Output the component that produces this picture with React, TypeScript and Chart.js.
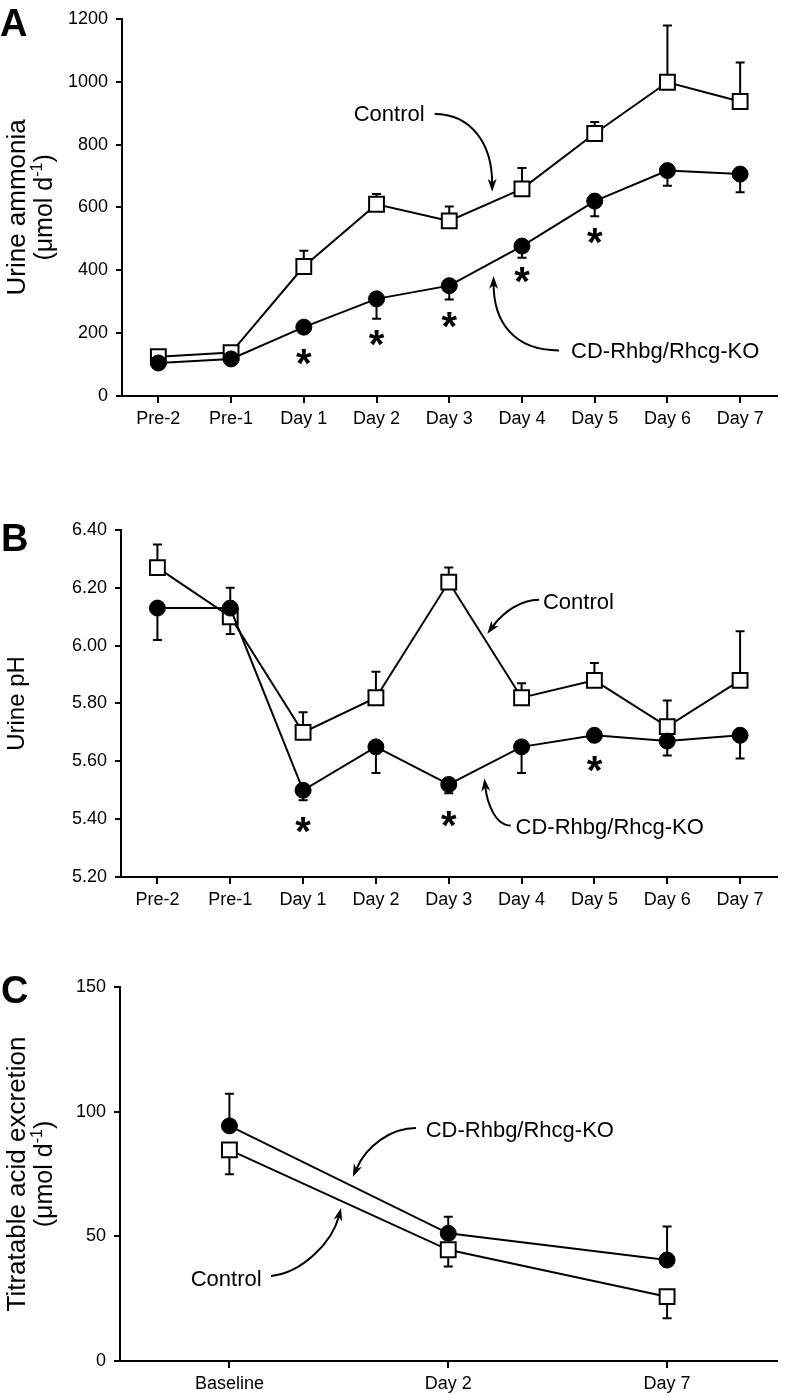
import React, { useEffect, useRef } from 'react';
import { Chart, registerables } from 'chart.js';

Chart.register(...registerables);

const FONT = "'Liberation Sans', Arial, Helvetica, sans-serif";

// ---------- DATA ----------
const dayLabels = ['Pre-2', 'Pre-1', 'Day 1', 'Day 2', 'Day 3', 'Day 4', 'Day 5', 'Day 6', 'Day 7'];

// Panel A: urine ammonia (µmol/d)
const ammoniaControl = [125, 138, 412, 610, 557, 659, 835, 998, 937];
const ammoniaControlErrUp = [10, 10, 50, 33, 46, 66, 37, 181, 124];
const ammoniaControlErrDown = [0, 0, 0, 0, 0, 0, 0, 0, 0];
const ammoniaKO = [105, 118, 219, 309, 351, 477, 620, 717, 706];
const ammoniaKOErrUp = [0, 0, 0, 0, 0, 0, 0, 0, 0];
const ammoniaKOErrDown = [8, 8, 15, 63, 44, 37, 48, 48, 58];
const ammoniaStars: (number | null)[] = [null, null, 123, 183, 243, 385, 508, null, null];
const ammoniaTicks = { min: 0, max: 1200, step: 200, decimals: 0 };

// Panel B: urine pH
const phControl = [6.27, 6.1, 5.7, 5.82, 6.22, 5.82, 5.88, 5.72, 5.88];
const phControlErrUp = [0.08, 0, 0.07, 0.09, 0.05, 0.05, 0.06, 0.09, 0.17];
const phControlErrDown = [0, 0.06, 0, 0, 0, 0, 0, 0, 0];
const phKO = [6.13, 6.13, 5.5, 5.65, 5.52, 5.65, 5.69, 5.67, 5.69];
const phKOErrUp = [0, 0.07, 0, 0, 0, 0, 0, 0, 0];
const phKOErrDown = [0.11, 0, 0.035, 0.09, 0.03, 0.09, 0.02, 0.05, 0.08];
const phStars: (number | null)[] = [null, null, 5.38, null, 5.4, null, 5.59, null, null];
const phTicks = { min: 5.2, max: 6.4, step: 0.2, decimals: 2 };

// Panel C: titratable acid excretion (µmol/d)
const taLabels = ['Baseline', 'Day 2', 'Day 7'];
const taControl = [84.7, 44.6, 25.8];
const taControlErrUp = [0, 0, 0];
const taControlErrDown = [9.8, 6.7, 8.7];
const taKO = [94.3, 51.2, 40.5];
const taKOErrUp = [12.9, 6.7, 13.4];
const taKOErrDown = [0, 0, 0];
const taStars: (number | null)[] = [null, null, null];
const taTicks = { min: 0, max: 150, step: 50, decimals: 0 };

// ---------- TYPES ----------
type Series = { data: number[]; errUp: number[]; errDown: number[]; kind: 'square' | 'circle' };
type Pt = [number, number];
type Note = { text: string; at: Pt; path: [Pt, Pt, Pt, Pt] };
type Panel = {
  letter: string;
  letterX: number;
  letterBaseline: number;
  title: string[];
  titleSizes: number[];
  titleBaselines: number[];
  labels: string[];
  ticks: { min: number; max: number; step: number; decimals: number };
  series: Series[];
  stars: (number | null)[];
  notes: Note[];
  top: number;
  height: number;
  area: { left: number; top: number; right: number; bottom: number };
};

// ---------- PANELS (layout + annotations) ----------
const panels: Panel[] = [
  {
    letter: 'A',
    letterX: 0,
    letterBaseline: 36,
    title: ['Urine ammonia', '(μmol d^{-1})'],
    titleSizes: [26, 25],
    titleBaselines: [24.5, 52],
    labels: dayLabels,
    ticks: ammoniaTicks,
    series: [
      { data: ammoniaKO, errUp: ammoniaKOErrUp, errDown: ammoniaKOErrDown, kind: 'circle' },
      { data: ammoniaControl, errUp: ammoniaControlErrUp, errDown: ammoniaControlErrDown, kind: 'square' },
    ],
    stars: ammoniaStars,
    notes: [
      { text: 'Control', at: [3.174, 901], path: [[3.8, 897], [4.28, 897], [4.59, 808], [4.59, 650]] },
      { text: 'CD-Rhbg/Rhcg-KO', at: [6.97, 145], path: [[5.51, 145], [4.87, 145], [4.61, 240], [4.61, 382]] },
    ],
    top: 0,
    height: 440,
    area: { left: 122, top: 16, right: 783, bottom: 396 },
  },
  {
    letter: 'B',
    letterX: 1,
    letterBaseline: 81,
    title: ['Urine pH'],
    titleSizes: [24],
    titleBaselines: [24],
    labels: dayLabels,
    ticks: phTicks,
    series: [
      { data: phKO, errUp: phKOErrUp, errDown: phKOErrDown, kind: 'circle' },
      { data: phControl, errUp: phControlErrUp, errDown: phControlErrDown, kind: 'square' },
    ],
    stars: phStars,
    notes: [
      { text: 'Control', at: [5.78, 6.155], path: [[5.24, 6.159], [4.99, 6.159], [4.75, 6.117], [4.53, 6.041]] },
      { text: 'CD-Rhbg/Rhcg-KO', at: [6.21, 5.376], path: [[4.85, 5.378], [4.62, 5.378], [4.52, 5.468], [4.49, 5.541]] },
    ],
    top: 470,
    height: 470,
    area: { left: 121, top: 60, right: 788, bottom: 407 },
  },
  {
    letter: 'C',
    letterX: 1,
    letterBaseline: 63,
    title: ['Titratable acid excretion', '(μmol d^{-1})'],
    titleSizes: [26, 25],
    titleBaselines: [24.5, 52],
    labels: taLabels,
    ticks: taTicks,
    series: [
      { data: taKO, errUp: taKOErrUp, errDown: taKOErrDown, kind: 'circle' },
      { data: taControl, errUp: taControlErrUp, errDown: taControlErrDown, kind: 'square' },
    ],
    stars: taStars,
    notes: [
      { text: 'CD-Rhbg/Rhcg-KO', at: [1.327, 93.0], path: [[0.853, 93.4], [0.741, 93.4], [0.627, 86.6], [0.564, 73.8]] },
      { text: 'Control', at: [-0.015, 33.3], path: [[0.19, 34.1], [0.334, 35.3], [0.47, 47.7], [0.51, 61.4]] },
    ],
    top: 940,
    height: 456,
    area: { left: 120, top: 47, right: 785, bottom: 421 },
  },
];

// ---------- DRAW HELPERS ----------
function drawRichCentered(ctx: CanvasRenderingContext2D, line: string, size: number) {
  const parts = line.split(/\^\{([^}]*)\}/);
  const segs: { t: string; sup: boolean }[] = parts.map((t, i) => ({ t, sup: i % 2 === 1 })).filter((s) => s.t);
  const supSize = Math.round(size * 0.62);
  let total = 0;
  const widths = segs.map((s) => {
    ctx.font = `${s.sup ? supSize : size}px ${FONT}`;
    const w = ctx.measureText(s.t).width;
    total += w;
    return w;
  });
  let x = -total / 2;
  ctx.textAlign = 'left';
  ctx.textBaseline = 'alphabetic';
  segs.forEach((s, i) => {
    ctx.font = `${s.sup ? supSize : size}px ${FONT}`;
    ctx.fillText(s.t, x, s.sup ? -size * 0.4 : 0);
    x += widths[i];
  });
}

function buildChart(canvas: HTMLCanvasElement, p: Panel) {
  const W = 789;
  const datasets = p.series.map((s) =>
    s.kind === 'circle'
      ? {
          data: s.data,
          borderColor: '#000',
          borderWidth: 2,
          pointStyle: 'circle',
          pointRadius: 8,
          pointBackgroundColor: '#000',
          pointBorderColor: '#000',
          pointBorderWidth: 1,
          tension: 0,
          fill: false,
          clip: false as any,
        }
      : {
          data: s.data,
          borderColor: '#000',
          borderWidth: 2,
          pointStyle: 'rect',
          pointRadius: 10.5,
          pointBackgroundColor: '#fff',
          pointBorderColor: '#000',
          pointBorderWidth: 2,
          tension: 0,
          fill: false,
          clip: false as any,
        }
  );

  const decor = {
    id: 'panelDecor',
    beforeDatasetsDraw(chart: any) {
      const ctx: CanvasRenderingContext2D = chart.ctx;
      const xs = chart.scales.x;
      const ys = chart.scales.y;
      ctx.save();
      ctx.strokeStyle = '#000';
      ctx.lineWidth = 2;
      p.series.forEach((s) => {
        s.data.forEach((v, i) => {
          const x = xs.getPixelForValue(i);
          const y0 = ys.getPixelForValue(v);
          const errs: [number, number][] = [
            [s.errUp[i], 1],
            [s.errDown[i], -1],
          ];
          errs.forEach(([e, sign]) => {
            if (!e) return;
            const y1 = ys.getPixelForValue(v + sign * e);
            ctx.beginPath();
            ctx.moveTo(x, y0);
            ctx.lineTo(x, y1);
            ctx.moveTo(x - 4.5, y1);
            ctx.lineTo(x + 4.5, y1);
            ctx.stroke();
          });
        });
      });
      ctx.restore();
    },
    afterDraw(chart: any) {
      const ctx: CanvasRenderingContext2D = chart.ctx;
      const xs = chart.scales.x;
      const ys = chart.scales.y;
      const px = (pt: Pt): Pt => [xs.getPixelForValue(pt[0]), ys.getPixelForValue(pt[1])];
      ctx.save();
      ctx.fillStyle = '#000';
      ctx.strokeStyle = '#000';

      // significance stars
      ctx.font = `bold 40px ${FONT}`;
      ctx.textAlign = 'center';
      ctx.textBaseline = 'alphabetic';
      const m = ctx.measureText('*');
      const asc = m.actualBoundingBoxAscent;
      const desc = m.actualBoundingBoxDescent;
      p.stars.forEach((v, i) => {
        if (v === null) return;
        const x = xs.getPixelForValue(i);
        const y = ys.getPixelForValue(v);
        ctx.fillText('*', x, y + (asc - desc) / 2);
      });

      // annotations with curved arrows
      p.notes.forEach((n) => {
        const [tx, ty] = px(n.at);
        ctx.font = `22px ${FONT}`;
        ctx.textAlign = 'center';
        ctx.textBaseline = 'alphabetic';
        ctx.fillText(n.text, tx, ty + 22 * 0.358);
        const [p0, c1, c2, p3] = n.path.map(px);
        let dx = p3[0] - c2[0];
        let dy = p3[1] - c2[1];
        const len = Math.hypot(dx, dy) || 1;
        dx /= len;
        dy /= len;
        const headLen = 13;
        const half = 4.5;
        const end: Pt = [p3[0] - dx * 8, p3[1] - dy * 8];
        ctx.lineWidth = 2;
        ctx.beginPath();
        ctx.moveTo(p0[0], p0[1]);
        ctx.bezierCurveTo(c1[0], c1[1], c2[0], c2[1], end[0], end[1]);
        ctx.stroke();
        const bx = p3[0] - dx * headLen;
        const by = p3[1] - dy * headLen;
        ctx.beginPath();
        ctx.moveTo(p3[0], p3[1]);
        ctx.lineTo(bx - dy * half, by + dx * half);
        ctx.lineTo(p3[0] - dx * headLen * 0.7, p3[1] - dy * headLen * 0.7);
        ctx.lineTo(bx + dy * half, by - dx * half);
        ctx.closePath();
        ctx.fill();
      });

      // panel letter
      ctx.font = `bold 38px ${FONT}`;
      ctx.textAlign = 'left';
      ctx.textBaseline = 'alphabetic';
      ctx.fillText(p.letter, p.letterX, p.letterBaseline);

      // rotated y-axis title
      const area = chart.chartArea;
      const cy = (area.top + area.bottom) / 2;
      p.title.forEach((line, i) => {
        ctx.save();
        ctx.translate(p.titleBaselines[i], cy);
        ctx.rotate(-Math.PI / 2);
        drawRichCentered(ctx, line, p.titleSizes[i]);
        ctx.restore();
      });
      ctx.restore();
    },
  };

  return new Chart(canvas, {
    type: 'line',
    data: { labels: p.labels, datasets: datasets as any },
    options: {
      responsive: false,
      animation: false,
      events: [],
      layout: { padding: { top: p.area.top, right: W - p.area.right, left: 0, bottom: 0 } },
      plugins: { legend: { display: false }, tooltip: { enabled: false } },
      scales: {
        x: {
          type: 'category',
          offset: true,
          grid: { display: true, drawOnChartArea: false, drawTicks: true, tickLength: 7, color: '#000', lineWidth: 2 },
          border: { display: true, color: '#000', width: 2 },
          ticks: { color: '#000', font: { family: FONT, size: 18 }, padding: 5, maxRotation: 0, autoSkip: false },
          afterFit: (s: any) => {
            s.height = p.height - p.area.bottom;
          },
        },
        y: {
          type: 'linear',
          min: p.ticks.min,
          max: p.ticks.max,
          ticks: {
            stepSize: p.ticks.step,
            color: '#000',
            font: { family: FONT, size: 18 },
            padding: 8,
            callback: (v: any) => Number(v).toFixed(p.ticks.decimals),
          },
          grid: { display: true, drawOnChartArea: false, drawTicks: true, tickLength: 6, color: '#000', lineWidth: 2 },
          border: { display: true, color: '#000', width: 2 },
          afterFit: (s: any) => {
            s.width = p.area.left;
          },
        },
      },
    } as any,
    plugins: [decor],
  });
}

export default function App() {
  const r0 = useRef<HTMLCanvasElement>(null);
  const r1 = useRef<HTMLCanvasElement>(null);
  const r2 = useRef<HTMLCanvasElement>(null);
  const refs = [r0, r1, r2];

  useEffect(() => {
    const charts = panels.map((p, i) => buildChart(refs[i].current as HTMLCanvasElement, p));
    return () => charts.forEach((c) => c.destroy());
  }, []);

  return (
    <div style={{ position: 'absolute', left: 0, top: 0, width: 789, height: 1396, background: '#fff', overflow: 'hidden' }}>
      {panels.map((p, i) => (
        <canvas
          key={i}
          ref={refs[i]}
          width={789}
          height={p.height}
          style={{ position: 'absolute', left: 0, top: p.top, width: 789, height: p.height, display: 'block' }}
        />
      ))}
    </div>
  );
}
